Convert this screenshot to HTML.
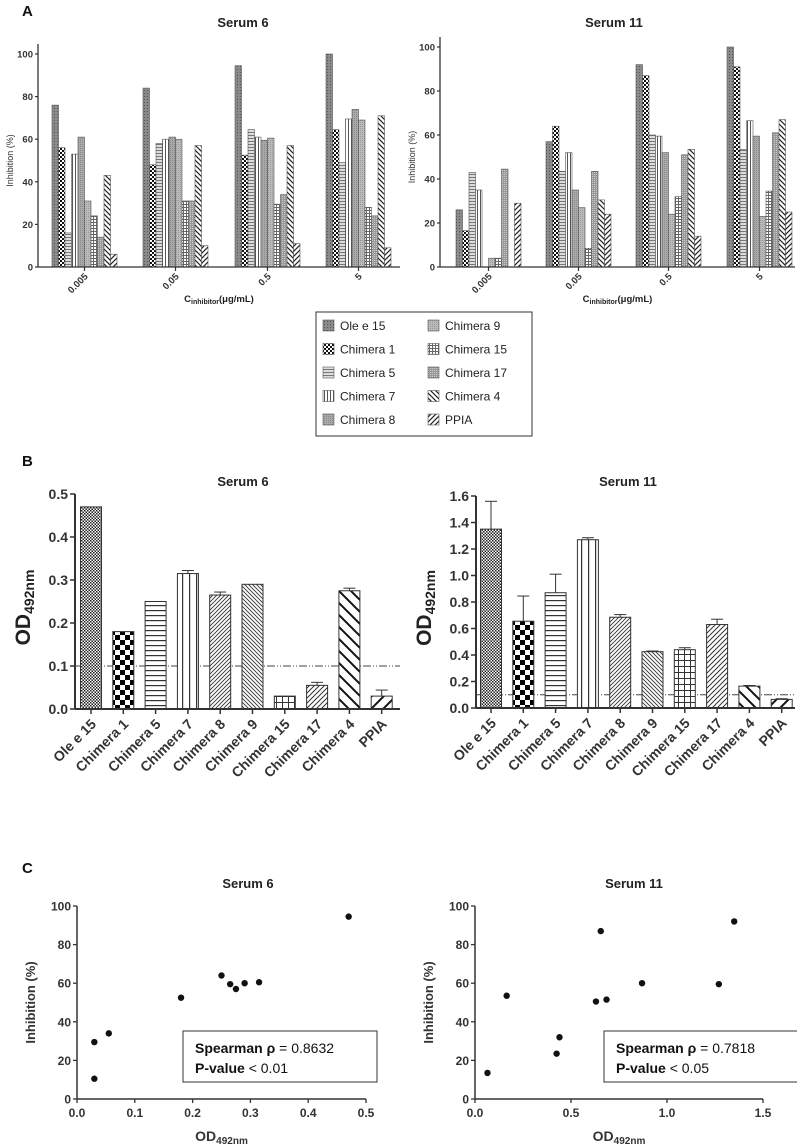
<!DOCTYPE html>
<html><head><meta charset="utf-8">
<style>
html,body{margin:0;padding:0;background:#fff;}
svg{display:block;font-family:"Liberation Sans",Arial,sans-serif;}
</style></head>
<body>
<svg id="fig" width="797" height="1147" viewBox="0 0 797 1147" xmlns="http://www.w3.org/2000/svg">
<defs>
<pattern id="pOle" width="3" height="3" patternUnits="userSpaceOnUse"><rect width="3" height="3" fill="#8a8a8a"/><rect width="1" height="1" fill="#555"/></pattern>
<pattern id="pChk" width="4" height="4" patternUnits="userSpaceOnUse"><rect width="4" height="4" fill="#fff"/><rect width="2" height="2" fill="#111"/><rect x="2" y="2" width="2" height="2" fill="#111"/></pattern>
<pattern id="pHor" width="4" height="3" patternUnits="userSpaceOnUse"><rect width="4" height="3" fill="#ddd"/><rect width="4" height="1" fill="#777"/></pattern>
<pattern id="pVer" width="3" height="4" patternUnits="userSpaceOnUse"><rect width="3" height="4" fill="#fff"/><rect width="1" height="4" fill="#555"/></pattern>
<pattern id="pG8" width="2" height="2" patternUnits="userSpaceOnUse"><rect width="2" height="2" fill="#aaa"/><rect width="1" height="1" fill="#888"/></pattern>
<pattern id="pG9" width="2" height="2" patternUnits="userSpaceOnUse"><rect width="2" height="2" fill="#bbb"/><rect width="1" height="1" fill="#999"/></pattern>
<pattern id="pGrid" width="3" height="3" patternUnits="userSpaceOnUse"><rect width="3" height="3" fill="#fff"/><rect width="3" height="1" fill="#666"/><rect width="1" height="3" fill="#666"/></pattern>
<pattern id="pG17" width="2" height="2" patternUnits="userSpaceOnUse"><rect width="2" height="2" fill="#999"/><rect width="1" height="1" fill="#ccc"/></pattern>
<pattern id="pD4" width="5" height="5" patternUnits="userSpaceOnUse"><rect width="5" height="5" fill="#fff"/><path d="M0,0 L5,5 M-1,4 L1,6 M4,-1 L6,1" stroke="#222" stroke-width="1.2"/></pattern>
<pattern id="pDP" width="5" height="5" patternUnits="userSpaceOnUse"><rect width="5" height="5" fill="#fff"/><path d="M0,5 L5,0 M-1,1 L1,-1 M4,6 L6,4" stroke="#222" stroke-width="1.2"/></pattern>
<pattern id="bOle" width="3" height="3" patternUnits="userSpaceOnUse"><rect width="3" height="3" fill="#fff"/><rect width="1.5" height="1.5" fill="#222"/><rect x="1.5" y="1.5" width="1.5" height="1.5" fill="#222"/></pattern>
<pattern id="bChk" width="10" height="10" patternUnits="userSpaceOnUse"><rect width="10" height="10" fill="#fff"/><rect width="5" height="5" fill="#000"/><rect x="5" y="5" width="5" height="5" fill="#000"/></pattern>
<pattern id="bHor" width="6" height="5" patternUnits="userSpaceOnUse"><rect width="6" height="5" fill="#fff"/><rect width="6" height="1.2" fill="#333"/></pattern>
<pattern id="bVer" width="7" height="6" patternUnits="userSpaceOnUse"><rect width="7" height="6" fill="#fff"/><rect width="1.2" height="6" fill="#333"/></pattern>
<pattern id="bF1" width="4" height="4" patternUnits="userSpaceOnUse"><rect width="4" height="4" fill="#fff"/><path d="M0,4 L4,0 M-1,1 L1,-1 M3,5 L5,3" stroke="#333" stroke-width="0.9"/></pattern>
<pattern id="bF2" width="4" height="4" patternUnits="userSpaceOnUse"><rect width="4" height="4" fill="#fff"/><path d="M0,0 L4,4 M-1,3 L1,5 M3,-1 L5,1" stroke="#333" stroke-width="0.9"/></pattern>
<pattern id="bGrid" width="6" height="6" patternUnits="userSpaceOnUse"><rect width="6" height="6" fill="#fff"/><rect width="6" height="1" fill="#333"/><rect width="1" height="6" fill="#333"/></pattern>
<pattern id="bF3" width="5" height="5" patternUnits="userSpaceOnUse"><rect width="5" height="5" fill="#fff"/><path d="M0,5 L5,0 M-1,1 L1,-1 M4,6 L6,4" stroke="#333" stroke-width="1"/></pattern>
<pattern id="bD4" width="12" height="12" patternUnits="userSpaceOnUse"><rect width="12" height="12" fill="#fff"/><path d="M0,0 L12,12 M-2,10 L2,14 M10,-2 L14,2" stroke="#111" stroke-width="2"/></pattern>
<pattern id="bDP" width="12" height="12" patternUnits="userSpaceOnUse"><rect width="12" height="12" fill="#fff"/><path d="M0,12 L12,0 M-2,2 L2,-2 M10,14 L14,10" stroke="#111" stroke-width="2"/></pattern>
</defs>
</svg>
<script>
const seriesNames = ["Ole e 15","Chimera 1","Chimera 5","Chimera 7","Chimera 8","Chimera 9","Chimera 15","Chimera 17","Chimera 4","PPIA"];
const concLabels = ["0.005","0.05","0.5","5"];
const inhibTicks = [0,20,40,60,80,100];
const inhibS6 = [
  [76,56,16,53,61,31,24,14,43,6],
  [84,48,58,60,61,60,31,31,57,10],
  [94.5,52.5,64.5,61,59.5,60.5,29.5,34,57,11],
  [100,64.5,49,69.5,74,69,28,24,71,9]
];
const inhibS11 = [
  [26,16.5,43,35,0,4,4,44.5,0,29],
  [57,64,43.5,52,35,27,8.5,43.5,30.5,24],
  [92,87,60,59.5,52,24,32,51,53.5,14],
  [100,91,53.5,66.5,59.5,23,34.5,61,67,25]
];
const odS6 = [0.47,0.18,0.25,0.315,0.265,0.29,0.03,0.055,0.275,0.03];
const odErrS6 = [0,0,0,0.007,0.007,0,0,0.007,0.006,0.014];
const odS11 = [1.35,0.655,0.87,1.27,0.685,0.425,0.44,0.63,0.165,0.065];
const odErrS11 = [0.21,0.19,0.14,0.015,0.02,0.005,0.015,0.04,0.005,0.005];
const odTicksS6 = [0,0.1,0.2,0.3,0.4,0.5];
const odTicksS11 = [0,0.2,0.4,0.6,0.8,1.0,1.2,1.4,1.6];
const cutoff = 0.1;
const scatS6x = [0.47,0.03,0.03,0.055,0.18,0.25,0.265,0.275,0.29,0.315];
const scatS6y = [94.5,29.5,10.5,34,52.5,64,59.5,57,60,60.5];
const scatS11x = [0.065,0.165,0.425,0.44,0.63,0.655,0.685,0.87,1.27,1.35];
const scatS11y = [13.5,53.5,23.5,32,50.5,87,51.5,60,59.5,92];
const scatXTicksS6 = [0,0.1,0.2,0.3,0.4,0.5];
const scatXTicksS11 = [0,0.5,1.0,1.5];

const fillsA = ["pOle","pChk","pHor","pVer","pG8","pG9","pGrid","pG17","pD4","pDP"];
const fillsB = ["bOle","bChk","bHor","bVer","bF1","bF2","bGrid","bF3","bD4","bDP"];

const NS="http://www.w3.org/2000/svg";
const svg=document.getElementById('fig');
function el(tag,attrs,parent,text){const e=document.createElementNS(NS,tag);for(const k in attrs)e.setAttribute(k,attrs[k]);if(text!==undefined)e.textContent=text;(parent||svg).appendChild(e);return e;}
function grp(name){const g=el('g',{});return g;}
function lin(d0,d1,r0,r1){return v=>r0+(v-d0)/(d1-d0)*(r1-r0);}
const AX="#333";
function label(g,x,y,txt,opts){return el('text',Object.assign({x:x,y:y,fill:AX,'font-weight':'bold','font-size':10},opts||{}),g,txt);}

function panelA(name,title,titleX,axX,y0,y100,axEnd,groupStarts,data){
  const g=grp(name);
  const y=lin(0,100,y0,y100);
  const bw=6.5;
  label(g,titleX,27,title,{'font-size':13,'text-anchor':'middle',fill:'#222'});
  data.forEach((row,gi)=>{
    row.forEach((v,si)=>{
      if(v<=0)return;
      const r=el('rect',{x:groupStarts[gi]+si*bw,y:y(v),width:bw,height:y(0)-y(v),fill:'url(#'+fillsA[si]+')',stroke:'#555','stroke-width':0.6},g);
      
      
    });
    const cx=groupStarts[gi]+bw*5;
    el('line',{x1:cx,x2:cx,y1:y0,y2:y0+4,stroke:AX,'stroke-width':1.2},g);
    const t=label(g,cx+4,y0+10,concLabels[gi],{'font-size':9.5,'text-anchor':'end',transform:'rotate(-45 '+(cx+4)+' '+(y0+10)+')'});
    
    
  });
  el('line',{x1:axX,x2:axX,y1:y100-10,y2:y0,stroke:AX,'stroke-width':1.3},g);
  el('line',{x1:axX,x2:axEnd,y1:y0,y2:y0,stroke:AX,'stroke-width':1.3},g);
  inhibTicks.forEach(v=>{
    el('line',{x1:axX-3,x2:axX,y1:y(v),y2:y(v),stroke:AX,'stroke-width':1.2},g);
    label(g,axX-5,y(v)+3.5,String(v),{'font-size':9.5,'text-anchor':'end'});
  });
  const yt=el('text',{x:0,y:0,fill:AX,'font-size':9,'text-anchor':'middle',transform:'translate('+(axX-25)+' '+((y0+y100)/2)+') rotate(-90)'},g,'Inhibition (%)');
  
  
  const xt=el('text',{x:(axX+axEnd)/2,y:302,fill:'#222','font-size':9.5,'font-weight':'bold','text-anchor':'middle'},g);
  
  
  el('tspan',{},xt,'C');
  el('tspan',{'font-size':7,dy:2},xt,'inhibitor');
  el('tspan',{dy:-2},xt,'(μg/mL)');
}
el('text',{x:22,y:16,'font-size':15,'font-weight':'bold',fill:'#111'},svg,'A');
panelA('panel-a-serum6','Serum 6',243,38,267,54,400,[52,143,235,326],inhibS6);
panelA('panel-a-serum11','Serum 11',614,440,267,47,795,[456,546,636,727],inhibS11);

(function(){
  const g=grp('legend');
  el('rect',{x:316,y:312,width:216,height:124,fill:'#fff',stroke:'#333','stroke-width':1},g);
  seriesNames.forEach((n,i)=>{
    const col=i<5?0:1, row=i%5;
    const x=col?428:323, yy=320+row*23.5;
    const e=grp('legend-entry');
    g.appendChild(e);
    el('rect',{x:x,y:yy,width:11,height:11,fill:'url(#'+fillsA[i]+')',stroke:'#555','stroke-width':0.6},e);
    el('text',{x:x+17,y:yy+10,'font-size':12,fill:'#222'},e,n);
  });
})();

function panelB(name,title,titleX,axX,y0,yTop,vTop,ticks,axEnd,firstX,step,vals,errs,tickFmt){
  const g=grp(name);
  const y=lin(0,vTop,y0,yTop);
  const bw=21;
  label(g,titleX,486,title,{'font-size':13,'text-anchor':'middle',fill:'#222'});
  el('line',{x1:axX,x2:axEnd,y1:y(cutoff),y2:y(cutoff),stroke:'#444','stroke-width':0.9,'stroke-dasharray':'8,2,1,2,1,2'},g);
  vals.forEach((v,i)=>{
    const bx=firstX+i*step;
    if(errs[i]>0){
      el('line',{x1:bx+bw/2,x2:bx+bw/2,y1:y(v),y2:y(v+errs[i]),stroke:'#333','stroke-width':1},g);
      el('line',{x1:bx+bw/2-6,x2:bx+bw/2+6,y1:y(v+errs[i]),y2:y(v+errs[i]),stroke:'#333','stroke-width':1},g);
    }
    const r=el('rect',{x:bx,y:y(v),width:bw,height:y0-y(v),fill:'url(#'+fillsB[i]+')',stroke:'#333','stroke-width':1},g);
    
    
    const cx=bx+bw/2;
    el('line',{x1:cx,x2:cx,y1:y0,y2:y0+5,stroke:AX,'stroke-width':1.5},g);
    label(g,cx+6,y0+16,seriesNames[i],{'font-size':14,'text-anchor':'end',transform:'rotate(-45 '+(cx+6)+' '+(y0+16)+')'});
  });
  el('line',{x1:axX,x2:axX,y1:yTop,y2:y0,stroke:AX,'stroke-width':2},g);
  el('line',{x1:axX,x2:axEnd,y1:y0,y2:y0,stroke:AX,'stroke-width':2},g);
  ticks.forEach(v=>{
    el('line',{x1:axX-5,x2:axX,y1:y(v),y2:y(v),stroke:AX,'stroke-width':1.5},g);
    label(g,axX-7,y(v)+5,tickFmt(v),{'font-size':14,'text-anchor':'end'});
  });
  const yt=el('text',{x:0,y:0,fill:'#222','font-size':21,'font-weight':'bold','text-anchor':'middle',transform:'translate('+(axX-45)+' '+((y0+yTop)/2+6)+') rotate(-90)'},g);
  
  
  el('tspan',{},yt,'OD');
  el('tspan',{'font-size':14,dy:4},yt,'492nm');
}
el('text',{x:22,y:466,'font-size':15,'font-weight':'bold',fill:'#111'},svg,'B');
panelB('panel-b-serum6','Serum 6',243,75,709,494,0.5,odTicksS6,400,80.5,32.3,odS6,odErrS6,v=>v.toFixed(1));
panelB('panel-b-serum11','Serum 11',628,476,708,496,1.6,odTicksS11,795,480.5,32.3,odS11,odErrS11,v=>v.toFixed(1));

function panelC(name,title,titleX,axX,axEnd,xMax,xTicks,xs,ys,fmt,boxX,rho,pv){
  const g=grp(name);
  const y0=1099,y100=906;
  const y=lin(0,100,y0,y100), x=lin(0,xMax,axX,axEnd);
  label(g,titleX,888,title,{'font-size':13,'text-anchor':'middle',fill:'#222'});
  el('line',{x1:axX,x2:axX,y1:y100,y2:y0,stroke:AX,'stroke-width':1.5},g);
  el('line',{x1:axX,x2:axEnd,y1:y0,y2:y0,stroke:AX,'stroke-width':1.5},g);
  inhibTicks.forEach(v=>{
    el('line',{x1:axX-4,x2:axX,y1:y(v),y2:y(v),stroke:AX,'stroke-width':1.3},g);
    label(g,axX-6,y(v)+4.5,String(v),{'font-size':12,'text-anchor':'end'});
  });
  xTicks.forEach(v=>{
    el('line',{x1:x(v),x2:x(v),y1:y0,y2:y0+4,stroke:AX,'stroke-width':1.3},g);
    label(g,x(v),y0+18,fmt(v),{'font-size':12,'text-anchor':'middle'});
  });
  xs.forEach((xv,i)=>{
    const c=el('circle',{cx:x(xv),cy:y(ys[i]),r:3.2,fill:'#111'},g);
    
    
  });
  const yt=el('text',{x:0,y:0,fill:AX,'font-size':13,'font-weight':'bold','text-anchor':'middle',transform:'translate('+(axX-42)+' '+((y0+y100)/2)+') rotate(-90)'},g,'Inhibition (%)');
  
  
  const xt=el('text',{x:(axX+axEnd)/2,y:1141,fill:AX,'font-size':14,'font-weight':'bold','text-anchor':'middle'},g);
  
  
  el('tspan',{},xt,'OD');
  el('tspan',{'font-size':10,dy:3},xt,'492nm');
  const bg=grp('stats-box'); g.appendChild(bg);
  el('rect',{x:boxX,y:1031,width:194,height:51,fill:'#fff',stroke:'#333','stroke-width':1},bg);
  const t1=el('text',{x:boxX+12,y:1053,'font-size':14,fill:'#111'},bg);
  el('tspan',{'font-weight':'bold'},t1,'Spearman ρ');
  el('tspan',{},t1,' = '+rho);
  const t2=el('text',{x:boxX+12,y:1073,'font-size':14,fill:'#111'},bg);
  el('tspan',{'font-weight':'bold'},t2,'P-value');
  el('tspan',{},t2,' < '+pv);
}
el('text',{x:22,y:873,'font-size':15,'font-weight':'bold',fill:'#111'},svg,'C');
panelC('panel-c-serum6','Serum 6',248,77,366,0.5,scatXTicksS6,scatS6x,scatS6y,v=>v.toFixed(1),183,'0.8632','0.01');
panelC('panel-c-serum11','Serum 11',634,475,763,1.5,scatXTicksS11,scatS11x,scatS11y,v=>v.toFixed(1),604,'0.7818','0.05');
</script>
</body></html>
